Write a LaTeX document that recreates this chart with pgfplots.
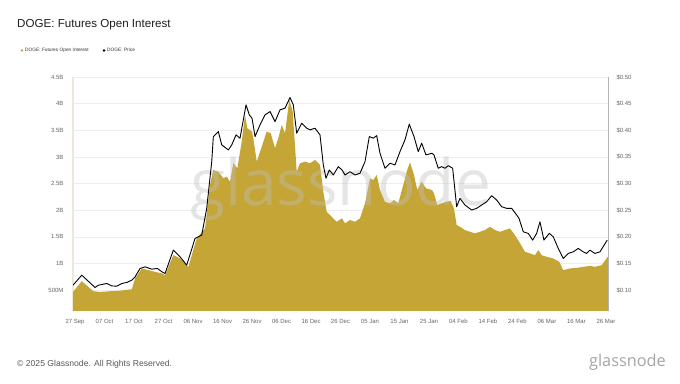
\documentclass[border=0pt]{standalone}
\usepackage{pgfplots}
\usepackage{pgfplotstable}
\pgfplotsset{compat=1.18}
\usepackage{fontspec}
\setmainfont{Liberation Sans}
\newfontfamily\wmfont{Open Sans}
\definecolor{oi}{HTML}{C4A535}
\definecolor{cream}{HTML}{EEE8D6}
\definecolor{tickc}{HTML}{666666}
\definecolor{gridc}{HTML}{EDEDED}
\definecolor{wm}{HTML}{C0C0C0}

\pgfplotstableread{
x v
-0.70 0.468
2.27 0.669
6.20 0.481
8.47 0.468
11.86 0.481
15.25 0.491
19.22 0.519
20.34 0.720
22.61 0.908
24.85 0.876
27.12 0.844
29.49 0.814
30.51 0.782
33.32 1.158
35.59 1.096
38.41 0.938
41.25 1.472
44.07 1.660
45.76 2.474
46.88 2.756
48.58 2.724
50.27 2.600
51.42 2.630
52.54 2.536
53.66 2.882
55.02 2.788
56.51 3.288
57.63 3.789
58.41 3.539
60.00 3.476
60.44 3.352
61.59 2.912
63.29 3.194
64.98 3.476
66.34 3.445
67.80 3.164
68.92 3.352
70.07 3.602
71.19 3.445
72.64 4.071
73.80 3.852
75.15 2.724
76.27 2.882
77.97 2.912
79.66 2.882
81.36 2.944
83.05 2.850
84.17 2.348
85.32 1.972
87.02 1.878
88.71 1.784
90.51 1.848
91.53 1.754
93.22 1.816
94.92 1.784
96.61 1.848
98.31 2.130
100.00 2.600
101.12 2.568
102.27 2.662
103.39 2.380
105.08 2.160
106.78 2.130
108.14 2.192
109.59 2.130
111.29 2.474
112.44 2.724
113.56 2.900
114.92 2.662
116.03 2.380
117.53 2.536
118.98 2.412
121.02 2.380
121.69 2.318
122.81 2.098
124.31 2.130
125.76 2.160
127.36 2.173
128.47 2.036
129.39 1.722
130.51 1.690
132.20 1.628
133.90 1.596
135.59 1.566
137.29 1.596
138.98 1.628
140.68 1.690
142.37 1.628
144.07 1.596
145.76 1.628
147.46 1.660
149.15 1.534
150.85 1.383
152.54 1.220
154.24 1.190
155.93 1.158
157.05 1.252
158.20 1.158
159.90 1.126
162.14 1.096
164.17 1.032
165.53 0.876
167.80 0.908
170.07 0.919
172.31 0.938
174.58 0.957
176.27 0.938
178.54 0.970
180.44 1.115
180.70 1.130
}\oitable

\pgfplotstableread{
x p
-0.70 0.1094
2.27 0.1282
6.78 0.1051
7.90 0.1094
10.75 0.1126
12.44 0.1081
14.14 0.1075
15.83 0.1126
17.53 0.1145
19.22 0.1188
20.34 0.1250
22.03 0.1408
23.73 0.1438
26.00 0.1395
27.90 0.1408
29.49 0.1344
30.51 0.1314
33.32 0.1752
35.59 0.1626
37.86 0.1470
40.68 0.1972
42.95 0.2034
44.64 0.2536
46.34 0.3412
46.88 0.3882
48.58 0.3976
49.73 0.3726
51.97 0.3632
53.12 0.3726
54.58 0.3914
55.93 0.3852
57.97 0.4477
59.08 0.4289
60.00 0.4227
61.02 0.3882
62.71 0.4102
64.41 0.4289
66.10 0.4352
67.80 0.4164
69.49 0.4383
71.19 0.4415
72.88 0.4615
74.00 0.4477
75.15 0.3945
76.85 0.4133
78.54 0.4039
79.66 0.4008
81.36 0.4039
83.05 0.3914
84.17 0.3350
85.08 0.3100
86.20 0.3256
87.56 0.3162
89.25 0.3318
90.51 0.3256
91.53 0.3162
93.22 0.3224
94.92 0.3162
96.61 0.3194
98.31 0.3412
99.76 0.3882
101.12 0.3852
102.27 0.3900
103.39 0.3570
105.08 0.3288
106.78 0.3382
108.47 0.3350
110.17 0.3600
111.86 0.3820
113.32 0.4115
114.92 0.3882
116.37 0.3600
117.53 0.3758
118.98 0.3538
121.02 0.3570
121.69 0.3538
123.15 0.3288
124.31 0.3318
125.42 0.3288
126.54 0.3336
128.03 0.3288
129.39 0.2566
130.51 0.2724
132.20 0.2598
134.47 0.2504
136.17 0.2536
137.86 0.2598
139.56 0.2660
141.25 0.2773
142.95 0.2692
144.64 0.2566
146.34 0.2536
148.03 0.2536
149.73 0.2410
150.50 0.2353
151.97 0.2096
153.66 0.2066
155.15 0.1940
156.51 0.2066
157.63 0.2284
158.98 0.1940
160.78 0.2066
162.14 0.2002
163.83 0.1784
165.53 0.1596
167.22 0.1690
168.92 0.1720
170.61 0.1784
172.31 0.1720
173.46 0.1690
174.58 0.1752
176.27 0.1690
177.97 0.1720
180.44 0.1940
}\pricetable

\pgfplotsset{
  common/.style={
    at={(73pt,72pt)}, anchor=south west, scale only axis,
    width=535pt, height=234pt,
    xmin=-0.7, xmax=180.7,
    major tick length=0pt,
    tick label style={font=\fontsize{6}{7}\selectfont, text=tickc},
  }
}

\begin{document}
\begin{tikzpicture}[x=1pt,y=1pt]
\useasboundingbox[fill=white] (0,0) rectangle (680,383);
\begin{axis}[common,
  ymin=0.11, ymax=4.5,
  axis y line*=left, axis x line*=bottom,
  x axis line style={draw=none},
  y axis line style={draw=cream, line width=1.5pt},
  ytick={0.5,1,1.5,2,2.5,3,3.5,4,4.5},
  yticklabels={500M,1B,1.5B,2B,2.5B,3B,3.5B,4B,4.5B},
  xtick={0,10,...,180},
  xticklabels={27 Sep,07 Oct,17 Oct,27 Oct,06 Nov,16 Nov,26 Nov,06 Dec,16 Dec,26 Dec,05 Jan,15 Jan,25 Jan,04 Feb,14 Feb,24 Feb,06 Mar,16 Mar,26 Mar},
  ymajorgrids, grid style={gridc, line width=0.5pt},
  yticklabel style={xshift=-6pt},
  xticklabel style={yshift=-5pt},
]
\addplot[fill=oi, draw=none] table[x=x,y=v]{\oitable} \closedcycle;
\node[font=\wmfont\fontsize{64}{64}\selectfont, text=wm, opacity=0.4] at (rel axis cs:0.5,0.52) {glassnode};
\end{axis}
\begin{axis}[common,
  ymin=0.061, ymax=0.5,
  axis y line*=right, axis x line=none,
  y axis line style={draw=black!30, line width=1pt},
  ytick={0.10,0.15,0.20,0.25,0.30,0.35,0.40,0.45,0.50},
  yticklabels={\$0.10,\$0.15,\$0.20,\$0.25,\$0.30,\$0.35,\$0.40,\$0.45,\$0.50},
  yticklabel style={xshift=5pt},
]
\addplot[black, line width=0.9pt, line join=round] table[x=x,y=p]{\pricetable};
\end{axis}
\node[anchor=base west, inner sep=0pt, font=\fontsize{11.6}{13}\selectfont, text=black!88] at (17,355) {DOGE: Futures Open Interest};
\fill[oi] (22,332.5) circle (1.4);
\node[anchor=base west, inner sep=0pt, font=\fontsize{4.8}{5}\selectfont, text=black!80] at (25,331) {DOGE: Futures Open Interest};
\fill[black] (104,332.5) circle (1.4);
\node[anchor=base west, inner sep=0pt, font=\fontsize{4.8}{5}\selectfont, text=black!80] at (107,331) {DOGE: Price};
\node[anchor=base west, inner sep=0pt, font=\fontsize{8.6}{10}\selectfont, text=black!65] at (17,17) {\textcopyright{} 2025 Glassnode. All Rights Reserved.};
\node[anchor=base east, inner sep=0pt, font=\wmfont\fontsize{16.3}{17}\selectfont, text=black!35] at (666,17) {glassnode};
\end{tikzpicture}
\end{document}
